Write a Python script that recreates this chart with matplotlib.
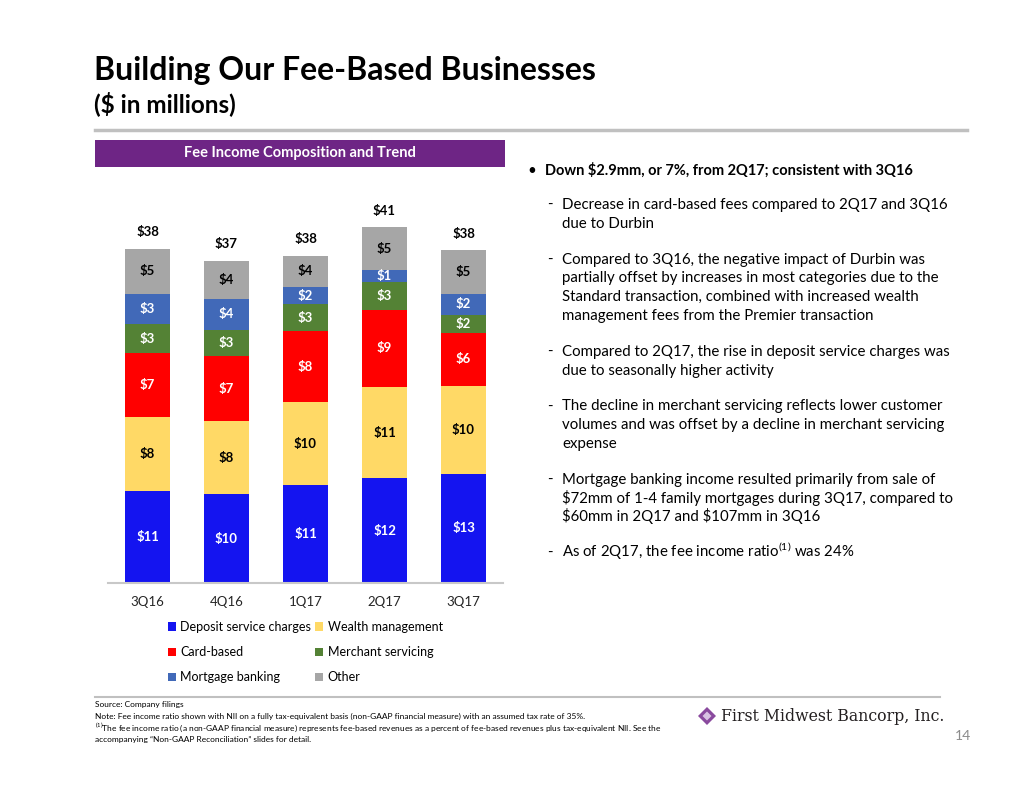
import numpy as np
import matplotlib
matplotlib.use("Agg")
import matplotlib.pyplot as plt
from matplotlib.patches import Rectangle, Polygon
from matplotlib.lines import Line2D

plt.rcParams['font.family'] = ['Lato', 'DejaVu Sans']
plt.rcParams['mathtext.fontset'] = 'custom'
plt.rcParams['mathtext.rm'] = 'Lato'
plt.rcParams['mathtext.bf'] = 'Lato:bold'

# ---------- DATA ($ in millions) ----------
quarters = ['3Q16', '4Q16', '1Q17', '2Q17', '3Q17']
deposit = [10.5, 10.1, 11.1, 11.9, 12.4]
wealth = [8.4, 8.3, 9.5, 10.4, 10.0]
card = [7.2, 7.4, 8.0, 8.7, 6.0]
merchant = [3.3, 3.0, 3.1, 3.2, 2.1]
mortgage = [3.4, 3.5, 1.9, 1.4, 2.3]
other = [5.2, 4.3, 3.6, 4.8, 5.0]

deposit_lbl = ['$11', '$10', '$11', '$12', '$13']
wealth_lbl = ['$8', '$8', '$10', '$11', '$10']
card_lbl = ['$7', '$7', '$8', '$9', '$6']
merchant_lbl = ['$3', '$3', '$3', '$3', '$2']
mortgage_lbl = ['$3', '$4', '$2', '$1', '$2']
other_lbl = ['$5', '$4', '$4', '$5', '$5']
total_lbl = ['$38', '$37', '$38', '$41', '$38']

series = [
    ('Deposit service charges', deposit, deposit_lbl, '#1414F0', 'white'),
    ('Wealth management', wealth, wealth_lbl, '#FFD966', 'black'),
    ('Card-based', card, card_lbl, '#FF0000', 'white'),
    ('Merchant servicing', merchant, merchant_lbl, '#548235', 'white'),
    ('Mortgage banking', mortgage, mortgage_lbl, '#4169B8', 'white'),
    ('Other', other, other_lbl, '#A6A6A6', 'black'),
]

bullet_head = 'Down \\$2.9mm, or 7%, from 2Q17; consistent with 3Q16'
sub_items = [
    ['Decrease in card-based fees compared to 2Q17 and 3Q16', 'due to Durbin'],
    ['Compared to 3Q16, the negative impact of Durbin was',
     'partially offset by increases in most categories due to the',
     'Standard transaction, combined with increased wealth',
     'management fees from the Premier transaction'],
    ['Compared to 2Q17, the rise in deposit service charges was',
     'due to seasonally higher activity'],
    ['The decline in merchant servicing reflects lower customer',
     'volumes and was offset by a decline in merchant servicing',
     'expense'],
    ['Mortgage banking income resulted primarily from sale of',
     '\\$72mm of 1-4 family mortgages during 3Q17, compared to',
     '\\$60mm in 2Q17 and \\$107mm in 3Q16'],
    [r'As of 2Q17, the fee income ratio$^{(1)}$ was 24%'],
]

W, H = 1034, 799
fig = plt.figure(figsize=(W / 100, H / 100), dpi=100)


def fx(x):
    return x / W


def fy(y):
    return 1 - y / H


# ---------- SLIDE HEADER ----------
fig.text(fx(94), fy(80), 'Building Our Fee-Based Businesses', fontsize=23,
         fontweight='bold', va='baseline', ha='left')
fig.text(fx(94), fy(112), '(\\$ in millions)', fontsize=17.5,
         fontweight='bold', va='baseline', ha='left')
fig.add_artist(Line2D([fx(95), fx(967)], [fy(130), fy(130)], color='#C0C0C0', lw=2.5))

fig.add_artist(Rectangle((fx(95), fy(167)), fx(505) - fx(95), fy(140) - fy(167),
                         facecolor='#6E2585', edgecolor='none', transform=fig.transFigure))
fig.text(fx(300), fy(153.5), 'Fee Income Composition and Trend', color='white',
         fontsize=10.5, fontweight='bold', ha='center', va='center')

# ---------- CHART ----------
ax = fig.add_axes([fx(108), fy(583), fx(503) - fx(108), fy(200) - fy(583)])
x = np.arange(len(quarters))
bottom = np.zeros(len(quarters))
handles = []
for name, vals, lbls, col, tcol in series:
    vals = np.array(vals)
    b = ax.bar(x, vals, 0.57, bottom=bottom, color=col, label=name)
    handles.append(b)
    for xi, v, bt, lb in zip(x, vals, bottom, lbls):
        ax.text(xi, bt + v / 2, lb.replace('$', '\\$'), ha='center', va='center',
                color=tcol, fontsize=9.5, fontweight='bold')
    bottom += vals

for xi, tot, lb in zip(x, bottom, total_lbl):
    ax.text(xi, tot + 1.9, lb.replace('$', '\\$'), ha='center', va='center',
            color='black', fontsize=9.5, fontweight='bold')

ax.set_xlim(-0.5, 4.5)
ax.set_ylim(0, 383 / 8.8)
ax.set_xticks(x)
ax.set_xticklabels(quarters, fontsize=9.5, color='#262626')
ax.tick_params(axis='x', length=0, pad=9)
ax.set_yticks([])
for s in ['top', 'left', 'right']:
    ax.spines[s].set_visible(False)
ax.spines['bottom'].set_color('#C8C8C8')
ax.spines['bottom'].set_linewidth(1.5)

order = [0, 2, 4, 1, 3, 5]
leg = fig.legend([handles[i] for i in order], [series[i][0] for i in order],
                 ncol=2, loc='upper left', bbox_to_anchor=(fx(168), fy(621)),
                 bbox_transform=fig.transFigure, frameon=False, fontsize=9,
                 handlelength=0.65, handleheight=0.65, handletextpad=0.35,
                 columnspacing=0.3, labelspacing=1.05, borderpad=0, borderaxespad=0)

# ---------- RIGHT-HAND COMMENTARY ----------
fs_r = 10.8
fig.text(fx(527), fy(175), '•', fontsize=fs_r, va='baseline', ha='left')
fig.text(fx(545), fy(175), bullet_head, fontsize=10.5, fontweight='bold',
         va='baseline', ha='left')
line_h = 18.8
y = 209
for item in sub_items:
    fig.text(fx(547), fy(y), '-', fontsize=fs_r, va='baseline', ha='left')
    for ln in item:
        fig.text(fx(562), fy(y), ln, fontsize=fs_r, va='baseline', ha='left')
        y += line_h
    y += 17

# ---------- FOOTER ----------
fig.add_artist(Line2D([fx(95), fx(940)], [fy(697), fy(697)], color='#C0C0C0', lw=1.5))
fs = 6.0
fig.text(fx(95), fy(707), 'Source: Company filings', fontsize=fs, va='baseline')
fig.text(fx(95), fy(718.5), 'Note: Fee income ratio shown with NII on a fully tax-equivalent basis '
         '(non-GAAP financial measure) with an assumed tax rate of 35%.', fontsize=fs, va='baseline')
fig.text(fx(95), fy(730.5), r'$^{(1)}$The fee income ratio (a non-GAAP financial measure) represents '
         'fee-based revenues as a percent of fee-based revenues plus tax-equivalent NII. See the',
         fontsize=fs, va='baseline')
fig.text(fx(95), fy(742), 'accompanying \u201cNon-GAAP Reconciliation\u201d slides for detail.',
         fontsize=fs, va='baseline')

# logo
cx, cy, r = 707, 716, 9
fig.add_artist(Polygon([[fx(cx - r), fy(cy)], [fx(cx), fy(cy - r)], [fx(cx + r), fy(cy)],
                        [fx(cx), fy(cy + r)]], closed=True, facecolor='#8A4A9E',
                       edgecolor='none', transform=fig.transFigure))
fig.add_artist(Polygon([[fx(cx - r / 2), fy(cy)], [fx(cx), fy(cy - r / 2)], [fx(cx + r / 2), fy(cy)],
                        [fx(cx), fy(cy + r / 2)]], closed=True, facecolor='#D9C2E3',
                       edgecolor='none', transform=fig.transFigure))
fig.text(fx(721), fy(721), 'First Midwest Bancorp, Inc.', fontsize=11.3,
         family='DejaVu Serif', va='baseline', ha='left', color='#231F20')
fig.text(fx(963), fy(736), '14', fontsize=10, color='#8C8C8C', va='center', ha='center')

fig.savefig('out.png', dpi=100)
